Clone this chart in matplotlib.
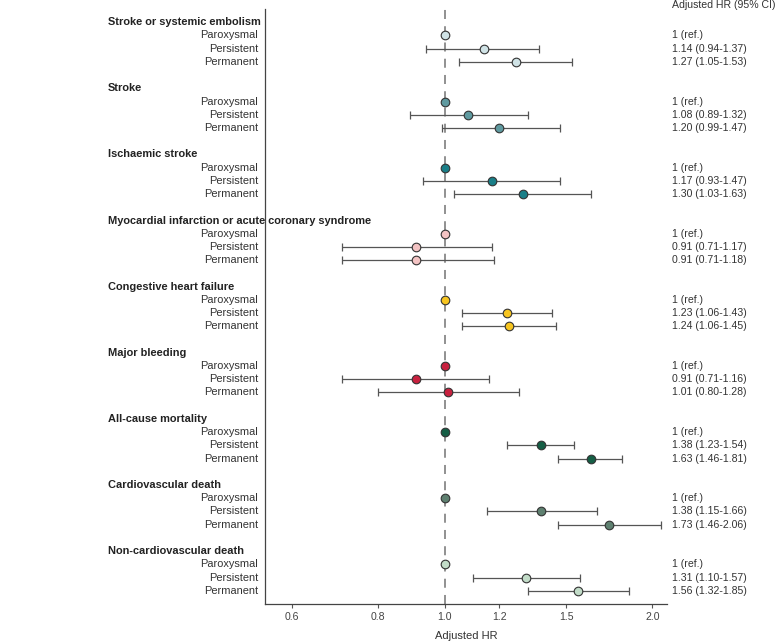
import matplotlib
matplotlib.use("Agg")
import matplotlib.pyplot as plt
import matplotlib.transforms as mtransforms
import numpy as np

groups = ["Stroke or systemic embolism", "Stroke", "Ischaemic stroke",
          "Myocardial infarction or acute coronary syndrome", "Congestive heart failure",
          "Major bleeding", "All-cause mortality", "Cardiovascular death",
          "Non-cardiovascular death"]
subgroups = ["Paroxysmal", "Persistent", "Permanent"]
hr = [[1.00, 1.14, 1.27], [1.00, 1.08, 1.20], [1.00, 1.17, 1.30],
      [1.00, 0.91, 0.91], [1.00, 1.23, 1.24], [1.00, 0.91, 1.01],
      [1.00, 1.38, 1.63], [1.00, 1.38, 1.73], [1.00, 1.31, 1.56]]
lo = [[None, 0.94, 1.05], [None, 0.89, 0.99], [None, 0.93, 1.03],
      [None, 0.71, 0.71], [None, 1.06, 1.06], [None, 0.71, 0.80],
      [None, 1.23, 1.46], [None, 1.15, 1.46], [None, 1.10, 1.32]]
hi = [[None, 1.37, 1.53], [None, 1.32, 1.47], [None, 1.47, 1.63],
      [None, 1.17, 1.18], [None, 1.43, 1.45], [None, 1.16, 1.28],
      [None, 1.54, 1.81], [None, 1.66, 2.06], [None, 1.57, 1.85]]
colors = ["#d0e3e6", "#5f9aa0", "#1a7f88", "#f3c3c3", "#f7c520",
          "#c8213f", "#155e45", "#5e8070", "#c2dcc8"]
xticks = [0.6, 0.8, 1.0, 1.2, 1.5, 2.0]
xticklabels = ["0.6", "0.8", "1.0", "1.2", "1.5", "2.0"]

plt.rcParams['font.family'] = ['Liberation Sans', 'DejaVu Sans']

fig = plt.figure(figsize=(7.78, 6.44), dpi=100)
ax = fig.add_axes([265/778, 1-604/644, (667-265)/778, (604-9)/644])
ax.set_xscale('log')
ax.set_xlim(0.549, 2.10)
ax.set_ylim(44, -1)

ax.axvline(1.0, color="#888888", lw=1.3, ls=(0, (5, 4)), zorder=1)

hdr_trans = mtransforms.blended_transform_factory(fig.transFigure, ax.transData)
fs = 7.9
for g, name in enumerate(groups):
    base = g * 5
    ax.text(108/778, base, name, transform=hdr_trans, ha='left',
            va='center', fontsize=fs, fontweight='bold', color='#222222', zorder=5)
    for k in range(3):
        y = base + 1 + k
        ax.text(-0.017, y, subgroups[k], transform=ax.get_yaxis_transform(), ha='right',
                va='center', fontsize=fs, color='#333333')
        v = hr[g][k]
        if lo[g][k] is not None:
            ax.errorbar([v], [y], xerr=[[v - lo[g][k]], [hi[g][k] - v]], fmt='none',
                        ecolor='#555555', elinewidth=0.9, capsize=3, capthick=0.9, zorder=2)
            txt = f"{v:.2f} ({lo[g][k]:.2f}-{hi[g][k]:.2f})"
        else:
            txt = "1 (ref.)"
        ax.plot([v], [y], 'o', ms=6.2, mfc=colors[g], mec='#333333', mew=0.8, zorder=3)
        ax.text(1.0125, y, txt, transform=ax.get_yaxis_transform(), ha='left',
                va='center', fontsize=7.6, color='#333333')

ax.text(1.0125, -1.3, "Adjusted HR (95% CI)", transform=ax.get_yaxis_transform(),
        ha='left', va='center', fontsize=7.6, color='#333333')

ax.set_xticks(xticks)
ax.set_xticklabels(xticklabels)
ax.xaxis.set_minor_locator(matplotlib.ticker.NullLocator())
ax.set_yticks([])
ax.tick_params(axis='x', length=3, width=0.8, color='#555555', labelsize=7.6,
               labelcolor='#444444', pad=3)
for s in ['top', 'right']:
    ax.spines[s].set_visible(False)
for s in ['left', 'bottom']:
    ax.spines[s].set_color('#444444')
    ax.spines[s].set_linewidth(0.9)
ax.set_xlabel("Adjusted HR", fontsize=8, color='#333333', labelpad=6)

fig.savefig("out.png", dpi=100)
